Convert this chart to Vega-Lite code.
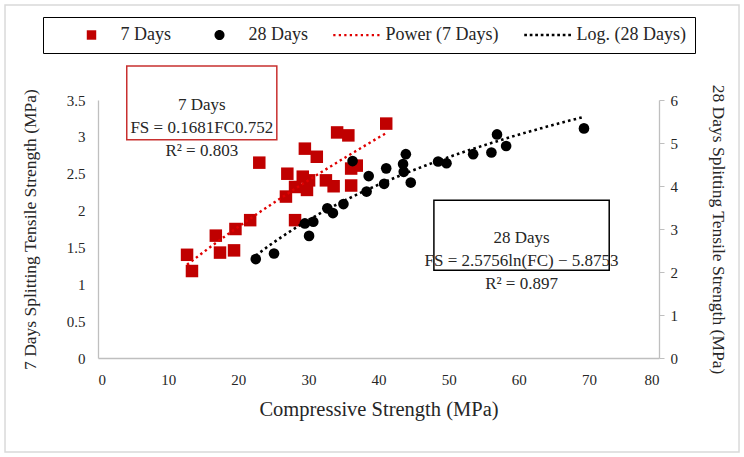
{
  "$schema": "https://vega.github.io/schema/vega-lite/v6.json",
  "width": 561,
  "height": 258,
  "autosize": {"type": "none"},
  "padding": {"left": 98, "top": 100, "right": 85, "bottom": 99},
  "background": "white",
  "config": {
    "view": {"stroke": null},
    "font": "Liberation Serif",
    "axis": {
      "labelFont": "Liberation Serif",
      "titleFont": "Liberation Serif",
      "labelColor": "#262626",
      "titleColor": "#262626",
      "titleFontWeight": "normal",
      "labelFontSize": 15,
      "titleFontSize": 17.5,
      "grid": false,
      "labelOverlap": false,
      "domainColor": "#bfbfbf",
      "domainWidth": 1.3
    },
    "legend": {
      "labelFont": "Liberation Serif",
      "labelFontSize": 18,
      "labelColor": "#262626"
    }
  },
  "datasets": {
    "pts": [
      {"series": "7 Days", "fc": 12.7, "fs": 1.40},
      {"series": "7 Days", "fc": 13.4, "fs": 1.18},
      {"series": "7 Days", "fc": 16.8, "fs": 1.66},
      {"series": "7 Days", "fc": 17.4, "fs": 1.43},
      {"series": "7 Days", "fc": 19.4, "fs": 1.46},
      {"series": "7 Days", "fc": 19.6, "fs": 1.75},
      {"series": "7 Days", "fc": 21.7, "fs": 1.87},
      {"series": "7 Days", "fc": 23.0, "fs": 2.65},
      {"series": "7 Days", "fc": 26.8, "fs": 2.19},
      {"series": "7 Days", "fc": 27.0, "fs": 2.50},
      {"series": "7 Days", "fc": 28.1, "fs": 2.32},
      {"series": "7 Days", "fc": 28.1, "fs": 1.87},
      {"series": "7 Days", "fc": 29.2, "fs": 2.46},
      {"series": "7 Days", "fc": 29.5, "fs": 2.84},
      {"series": "7 Days", "fc": 29.8, "fs": 2.28},
      {"series": "7 Days", "fc": 30.1, "fs": 2.41},
      {"series": "7 Days", "fc": 31.2, "fs": 2.73},
      {"series": "7 Days", "fc": 32.5, "fs": 2.41},
      {"series": "7 Days", "fc": 33.6, "fs": 2.33},
      {"series": "7 Days", "fc": 34.1, "fs": 3.06},
      {"series": "7 Days", "fc": 35.7, "fs": 3.02},
      {"series": "7 Days", "fc": 36.1, "fs": 2.34},
      {"series": "7 Days", "fc": 36.1, "fs": 2.57},
      {"series": "7 Days", "fc": 36.9, "fs": 2.61},
      {"series": "7 Days", "fc": 41.1, "fs": 3.18},
      {"series": "28 Days", "fc": 22.5, "fs": 2.30},
      {"series": "28 Days", "fc": 25.1, "fs": 2.43},
      {"series": "28 Days", "fc": 29.5, "fs": 3.13},
      {"series": "28 Days", "fc": 30.7, "fs": 3.17},
      {"series": "28 Days", "fc": 30.1, "fs": 2.84},
      {"series": "28 Days", "fc": 32.7, "fs": 3.48},
      {"series": "28 Days", "fc": 33.5, "fs": 3.37},
      {"series": "28 Days", "fc": 35.0, "fs": 3.58},
      {"series": "28 Days", "fc": 36.3, "fs": 4.58},
      {"series": "28 Days", "fc": 38.3, "fs": 3.87},
      {"series": "28 Days", "fc": 38.6, "fs": 4.23},
      {"series": "28 Days", "fc": 40.8, "fs": 4.05},
      {"series": "28 Days", "fc": 41.1, "fs": 4.41},
      {"series": "28 Days", "fc": 43.5, "fs": 4.51},
      {"series": "28 Days", "fc": 43.6, "fs": 4.33},
      {"series": "28 Days", "fc": 43.9, "fs": 4.74},
      {"series": "28 Days", "fc": 44.6, "fs": 4.08},
      {"series": "28 Days", "fc": 48.5, "fs": 4.57},
      {"series": "28 Days", "fc": 49.7, "fs": 4.53},
      {"series": "28 Days", "fc": 53.5, "fs": 4.74},
      {"series": "28 Days", "fc": 56.1, "fs": 4.78},
      {"series": "28 Days", "fc": 56.9, "fs": 5.20},
      {"series": "28 Days", "fc": 58.2, "fs": 4.93},
      {"series": "28 Days", "fc": 69.3, "fs": 5.34}
    ],
    "legendItems": [
      {"series": "7 Days"},
      {"series": "28 Days"},
      {"series": "Power (7 Days)"},
      {"series": "Log. (28 Days)"}
    ]
  },
  "data": {"name": "pts"},
  "layer": [
    {
      "layer": [
        {
          "data": {"values": [{"k": 1}]},
          "mark": {"type": "rect", "fill": null, "fillOpacity": 0, "stroke": "#d9d9d9", "strokeWidth": 1.5},
          "encoding": {
            "x": {"datum": -13.26, "type": "quantitative", "title": "Compressive Strength (MPa)",
                  "scale": {"domain": [0, 80], "nice": false},
                  "axis": {"tickCount": 8, "ticks": false, "labelPadding": 14, "titlePadding": 12, "titleFontSize": 20.5}},
            "x2": {"datum": 91.41},
            "y": {"datum": -1.275, "type": "quantitative", "title": "7 Days Splitting Tensile Strength (MPa)",
                  "scale": {"domain": [0, 3.5], "nice": false},
                  "axis": {"tickCount": 7, "format": "~g", "labelOverlap": false, "ticks": false, "labelPadding": 13, "titlePadding": 27}},
            "y2": {"datum": 4.789}
          }
        },
        {
          "data": {"name": "legendItems"},
          "mark": {"type": "point", "filled": true, "opacity": 0, "size": 1},
          "encoding": {
            "color": {"field": "series", "type": "nominal",
                      "scale": {"domain": ["7 Days", "28 Days", "Power (7 Days)", "Log. (28 Days)"],
                                "range": ["#c00000", "#000000", "#e00000", "#000000"]},
                      "legend": {"title": null, "orient": "none", "legendX": -55, "legendY": -83,
                                 "direction": "horizontal", "columns": 4, "strokeColor": "#000000",
                                 "fillColor": "#ffffff", "padding": 9, "symbolSize": 225, "symbolOpacity": 1,
                                 "symbolStrokeWidth": 0, "symbolOffset": 30.5, "labelOffset": 20, "columnPadding": 9}},
            "shape": {"field": "series", "type": "nominal",
                      "scale": {"domain": ["7 Days", "28 Days", "Power (7 Days)", "Log. (28 Days)"],
                                "range": ["M-0.63,-0.63h1.26v1.26h-1.26Z",
                                          "M0.67,0A0.67,0.67 0 1,1 -0.67,0A0.67,0.67 0 1,1 0.67,0Z",
                                          "M-3.1,-0.15h0.3v0.3h-0.3Z M-2.367,-0.15h0.3v0.3h-0.3Z M-1.633,-0.15h0.3v0.3h-0.3Z M-0.9,-0.15h0.3v0.3h-0.3Z M-0.167,-0.15h0.3v0.3h-0.3Z M0.567,-0.15h0.3v0.3h-0.3Z M1.3,-0.15h0.3v0.3h-0.3Z M2.033,-0.15h0.3v0.3h-0.3Z M2.767,-0.15h0.3v0.3h-0.3Z",
                                          "M-3.1,-0.18h0.36v0.36h-0.36Z M-2.367,-0.18h0.36v0.36h-0.36Z M-1.633,-0.18h0.36v0.36h-0.36Z M-0.9,-0.18h0.36v0.36h-0.36Z M-0.167,-0.18h0.36v0.36h-0.36Z M0.567,-0.18h0.36v0.36h-0.36Z M1.3,-0.18h0.36v0.36h-0.36Z M2.033,-0.18h0.36v0.36h-0.36Z M2.767,-0.18h0.36v0.36h-0.36Z"]},
                      "legend": {"title": null, "orient": "none", "legendX": -55, "legendY": -83,
                                 "direction": "horizontal", "columns": 4, "strokeColor": "#000000",
                                 "fillColor": "#ffffff", "padding": 9, "symbolSize": 225, "symbolOpacity": 1,
                                 "symbolStrokeWidth": 0, "symbolOffset": 30.5, "labelOffset": 20, "columnPadding": 9}}
          }
        },
        {
          "transform": [{"filter": "datum.series === '7 Days'"}],
          "mark": {"type": "point", "shape": "square", "filled": true, "opacity": 1, "size": 156, "strokeWidth": 0, "color": "#c00000"},
          "encoding": {
            "x": {"field": "fc", "type": "quantitative", "title": "Compressive Strength (MPa)"},
            "y": {"field": "fs", "type": "quantitative", "title": "7 Days Splitting Tensile Strength (MPa)"}
          }
        },
        {
          "transform": [
            {"filter": "datum.series === '7 Days'"},
            {"regression": "fs", "on": "fc", "method": "pow"}
          ],
          "mark": {"type": "line", "color": "#e00000", "strokeWidth": 2.4, "strokeDash": [2.4, 3.2]},
          "encoding": {
            "x": {"field": "fc", "type": "quantitative", "title": "Compressive Strength (MPa)"},
            "y": {"field": "fs", "type": "quantitative", "title": "7 Days Splitting Tensile Strength (MPa)"}
          }
        },
        {
          "data": {"values": [{"k": 1}]},
          "mark": {"type": "rect", "fill": "#ffffff", "stroke": "#c8302f", "strokeWidth": 1.5},
          "encoding": {
            "x": {"datum": 4.1, "type": "quantitative", "title": "Compressive Strength (MPa)"},
            "x2": {"datum": 25.5},
            "y": {"datum": 2.96, "type": "quantitative", "title": "7 Days Splitting Tensile Strength (MPa)"},
            "y2": {"datum": 3.96}
          }
        },
        {
          "data": {"values": [{"k": 1}]},
          "mark": {"type": "text", "font": "Liberation Serif", "fontSize": 17, "color": "#262626",
                   "align": "center", "baseline": "middle", "lineHeight": 23},
          "encoding": {
            "x": {"datum": 14.8, "type": "quantitative", "title": "Compressive Strength (MPa)"},
            "y": {"datum": 3.43, "type": "quantitative", "title": "7 Days Splitting Tensile Strength (MPa)"},
            "text": {"value": ["7 Days", "FS = 0.1681FC0.752", "R² = 0.803"]}
          }
        },
        {
          "data": {"values": [{"k": 1}]},
          "mark": {"type": "rect", "fill": "#ffffff", "stroke": "#000000", "strokeWidth": 1.5},
          "encoding": {
            "x": {"datum": 47.9, "type": "quantitative", "title": "Compressive Strength (MPa)"},
            "x2": {"datum": 72.9},
            "y": {"datum": 1.19, "type": "quantitative", "title": "7 Days Splitting Tensile Strength (MPa)"},
            "y2": {"datum": 2.14}
          }
        },
        {
          "data": {"values": [{"k": 1}]},
          "mark": {"type": "text", "font": "Liberation Serif", "fontSize": 17, "color": "#262626",
                   "align": "center", "baseline": "middle", "lineHeight": 23},
          "encoding": {
            "x": {"datum": 60.4, "type": "quantitative", "title": "Compressive Strength (MPa)"},
            "y": {"datum": 1.63, "type": "quantitative", "title": "7 Days Splitting Tensile Strength (MPa)"},
            "text": {"value": ["28 Days", "FS = 2.5756ln(FC) − 5.8753", "R² = 0.897"]}
          }
        }
      ]
    },
    {
      "layer": [
        {
          "transform": [{"filter": "datum.series === '28 Days'"}],
          "mark": {"type": "point", "shape": "circle", "filled": true, "opacity": 1, "size": 113, "strokeWidth": 0, "color": "#000000"},
          "encoding": {
            "x": {"field": "fc", "type": "quantitative", "title": "Compressive Strength (MPa)"},
            "y": {"field": "fs", "type": "quantitative", "title": "28 Days Splitting Tensile Strength (MPa)",
                  "scale": {"domain": [0, 6], "nice": false},
                  "axis": {"orient": "right", "tickCount": 6, "labelOverlap": false, "ticks": true, "tickSize": 5,
                           "tickColor": "#bfbfbf", "labelPadding": 6, "titlePadding": 31}}
          }
        },
        {
          "transform": [
            {"filter": "datum.series === '28 Days'"},
            {"regression": "fs", "on": "fc", "method": "log"}
          ],
          "mark": {"type": "line", "color": "#000000", "strokeWidth": 2.6, "strokeDash": [2.6, 3.2]},
          "encoding": {
            "x": {"field": "fc", "type": "quantitative", "title": "Compressive Strength (MPa)"},
            "y": {"field": "fs", "type": "quantitative", "title": "28 Days Splitting Tensile Strength (MPa)"}
          }
        }
      ]
    }
  ],
  "resolve": {"scale": {"y": "independent"}, "axis": {"y": "independent"}}
}
